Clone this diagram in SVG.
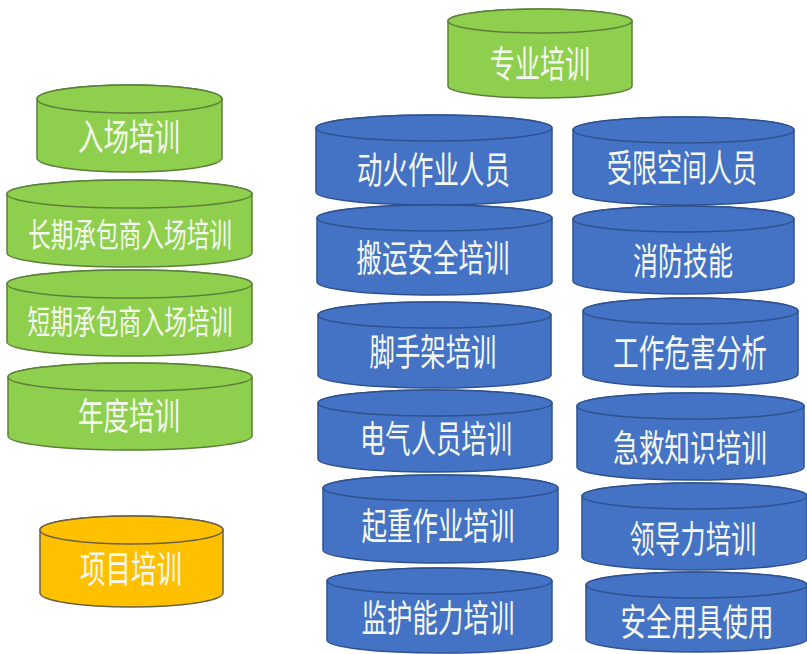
<svg xmlns="http://www.w3.org/2000/svg" width="807" height="654" viewBox="0 0 807 654">
<style>
.g path,.g ellipse{fill:#8fcf4e;stroke:#5b7f3a;stroke-width:1.5}
.b path,.b ellipse{fill:#4472c4;stroke:#2f528f;stroke-width:1.5}
.o path,.o ellipse{fill:#ffc000;stroke:#6b6040;stroke-width:1.5}
text{font-family:"Noto Sans CJK SC","Noto Sans",sans-serif;fill:#f4f8ef;text-anchor:middle;dominant-baseline:central;font-size:37px}
.s{font-size:33px}
</style>
<rect width="807" height="654" fill="#ffffff"/>
<g id="n-zhuanye" class="g"><path d="M448,21 A92,12 0 0 1 632,21 V86 A92,12 0 0 1 448,86 Z"/><ellipse cx="540" cy="21" rx="92" ry="12"/><text transform="translate(540,61.5) scale(0.676,1)">专业培训</text></g>
<g id="n-ruchang" class="g"><path d="M37,99 A92.5,14 0 0 1 222,99 V158 A92.5,14 0 0 1 37,158 Z"/><ellipse cx="129.5" cy="99" rx="92.5" ry="14"/><text transform="translate(129,135) scale(0.689,1)">入场培训</text></g>
<g id="n-changqi" class="g"><path d="M7,194 A122.5,14 0 0 1 252,194 V253 A122.5,14 0 0 1 7,253 Z"/><ellipse cx="129.5" cy="194" rx="122.5" ry="14"/><text class="s" transform="translate(130,232) scale(0.687,1)">长期承包商入场培训</text></g>
<g id="n-duanqi" class="g"><path d="M7,284 A122.5,14 0 0 1 252,284 V342 A122.5,14 0 0 1 7,342 Z"/><ellipse cx="129.5" cy="284" rx="122.5" ry="14"/><text class="s" transform="translate(130,319) scale(0.69,1)">短期承包商入场培训</text></g>
<g id="n-niandu" class="g"><path d="M8,377 A122,14 0 0 1 252,377 V436 A122,14 0 0 1 8,436 Z"/><ellipse cx="130" cy="377" rx="122" ry="14"/><text transform="translate(129,414) scale(0.689,1)">年度培训</text></g>
<g id="n-xiangmu" class="o"><path d="M40,530 A91.5,14 0 0 1 223,530 V593 A91.5,14 0 0 1 40,593 Z"/><ellipse cx="131.5" cy="530" rx="91.5" ry="14"/><text transform="translate(131,566.5) scale(0.689,1)">项目培训</text></g>
<g id="n-donghuo" class="b"><path d="M316,128 A118,13 0 0 1 552,128 V192 A118,13 0 0 1 316,192 Z"/><ellipse cx="434" cy="128" rx="118" ry="13"/><text transform="translate(433.5,167.5) scale(0.689,1)">动火作业人员</text></g>
<g id="n-shouxian" class="b"><path d="M573,130 A110.5,13 0 0 1 794,130 V192 A110.5,13 0 0 1 573,192 Z"/><ellipse cx="683.5" cy="130" rx="110.5" ry="13"/><text transform="translate(682,165.5) scale(0.676,1)">受限空间人员</text></g>
<g id="n-banyun" class="b"><path d="M317,218 A117.5,13 0 0 1 552,218 V282 A117.5,13 0 0 1 317,282 Z"/><ellipse cx="434.5" cy="218" rx="117.5" ry="13"/><text transform="translate(433,256) scale(0.689,1)">搬运安全培训</text></g>
<g id="n-xiaofang" class="b"><path d="M573,219 A110.5,13 0 0 1 794,219 V281 A110.5,13 0 0 1 573,281 Z"/><ellipse cx="683.5" cy="219" rx="110.5" ry="13"/><text transform="translate(683,259) scale(0.676,1)">消防技能</text></g>
<g id="n-jiaoshou" class="b"><path d="M318,315 A116.5,13 0 0 1 551,315 V375 A116.5,13 0 0 1 318,375 Z"/><ellipse cx="434.5" cy="315" rx="116.5" ry="13"/><text transform="translate(433,350) scale(0.686,1)">脚手架培训</text></g>
<g id="n-gongzuo" class="b"><path d="M583,311 A107.5,13 0 0 1 798,311 V374 A107.5,13 0 0 1 583,374 Z"/><ellipse cx="690.5" cy="311" rx="107.5" ry="13"/><text transform="translate(690,351) scale(0.694,1)">工作危害分析</text></g>
<g id="n-dianqi" class="b"><path d="M318,403 A117,13 0 0 1 552,403 V459 A117,13 0 0 1 318,459 Z"/><ellipse cx="435" cy="403" rx="117" ry="13"/><text transform="translate(436,437) scale(0.685,1)">电气人员培训</text></g>
<g id="n-jijiu" class="b"><path d="M577,406 A113.5,13 0 0 1 804,406 V467 A113.5,13 0 0 1 577,467 Z"/><ellipse cx="690.5" cy="406" rx="113.5" ry="13"/><text transform="translate(690,446) scale(0.694,1)">急救知识培训</text></g>
<g id="n-qizhong" class="b"><path d="M323,488 A117.5,13 0 0 1 558,488 V550 A117.5,13 0 0 1 323,550 Z"/><ellipse cx="440.5" cy="488" rx="117.5" ry="13"/><text transform="translate(438,524) scale(0.689,1)">起重作业培训</text></g>
<g id="n-lingdao" class="b"><path d="M582,496 A112.5,13 0 0 1 807,496 V557 A112.5,13 0 0 1 582,557 Z"/><ellipse cx="694.5" cy="496" rx="112.5" ry="13"/><text transform="translate(693,537) scale(0.686,1)">领导力培训</text></g>
<g id="n-jianhu" class="b"><path d="M327,581 A112.5,13 0 0 1 552,581 V640 A112.5,13 0 0 1 327,640 Z"/><ellipse cx="439.5" cy="581" rx="112.5" ry="13"/><text transform="translate(438,616) scale(0.689,1)">监护能力培训</text></g>
<g id="n-anquan" class="b"><path d="M586,585 A110.5,13 0 0 1 807,585 V639 A110.5,13 0 0 1 586,639 Z"/><ellipse cx="696.5" cy="585" rx="110.5" ry="13"/><text transform="translate(697,620) scale(0.689,1)">安全用具使用</text></g>
<g id="connectors"/>
</svg>
